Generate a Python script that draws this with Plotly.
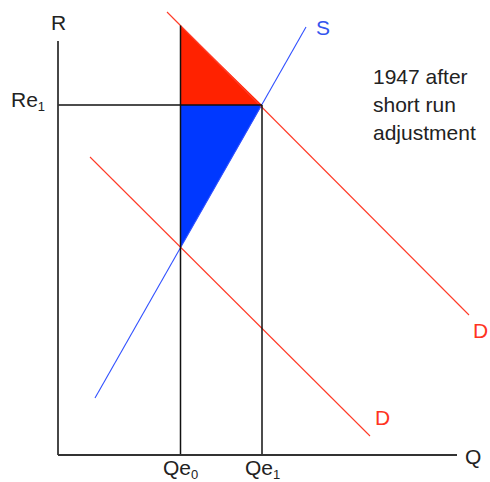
import numpy as np
import plotly.graph_objects as go

# Quantity (Q) and price (R) in diagram units; origin at the axes corner
axis_q_end = 399
axis_r_end = 414

supply_q = [37, 248]
supply_r = [57, 428]

demand_new_q = [109, 411]
demand_new_r = [443, 140]

demand_old_q = [32, 312]
demand_old_r = [298, 19]

qe0 = 122.5
qe1 = 204
re1 = 350

# Where the vertical at Qe0 meets the new demand and the supply curves
r_top = float(np.interp(qe0, demand_new_q, demand_new_r))
r_bottom = float(np.interp(qe0, supply_q, supply_r))

RED_LINE = "#ff3b28"
BLUE_LINE = "#3050ff"
FONT = "Liberation Sans, Arial, sans-serif"

fig = go.Figure()

# Shaded areas
fig.add_trace(go.Scatter(
    x=[qe0, qe0, qe1, qe0], y=[r_top, re1, re1, r_top],
    fill="toself", fillcolor="#ff2200", mode="lines",
    line=dict(width=0), hoverinfo="skip"))
fig.add_trace(go.Scatter(
    x=[qe0, qe1, qe0, qe0], y=[re1, re1, r_bottom, re1],
    fill="toself", fillcolor="#0038ff", mode="lines",
    line=dict(width=0), hoverinfo="skip"))

# Supply and demand curves
fig.add_trace(go.Scatter(x=supply_q, y=supply_r, mode="lines",
                         line=dict(color=BLUE_LINE, width=1.1)))
fig.add_trace(go.Scatter(x=demand_new_q, y=demand_new_r, mode="lines",
                         line=dict(color=RED_LINE, width=1.1)))
fig.add_trace(go.Scatter(x=demand_old_q, y=demand_old_r, mode="lines",
                         line=dict(color=RED_LINE, width=1.1)))

# Equilibrium guide lines
guide = dict(color="#111111", width=1.5)
fig.add_trace(go.Scatter(x=[qe0, qe0], y=[0, r_top], mode="lines", line=guide))
fig.add_trace(go.Scatter(x=[qe1, qe1], y=[0, re1], mode="lines", line=guide))
fig.add_trace(go.Scatter(x=[0, qe1], y=[re1, re1], mode="lines", line=guide))

# Axes
ax = dict(color="#333333", width=1.8)
fig.add_trace(go.Scatter(x=[0, 0], y=[0, axis_r_end], mode="lines", line=ax))
fig.add_trace(go.Scatter(x=[0, axis_q_end], y=[0, 0], mode="lines", line=ax))


def label(x, y, text, color="#222222", size=21, xanchor="center"):
    fig.add_annotation(x=x, y=y, text=text, showarrow=False,
                       xanchor=xanchor, yanchor="middle",
                       font=dict(family=FONT, size=size, color=color))


SUB = "<sub><span style='font-size:13px'>{}</span></sub>"

label(0, 433, "R")
label(415, -1, "Q")
label(-11, 354, "Re" + SUB.format("1"), xanchor="right")
label(qe0, -14, "Qe" + SUB.format("0"))
label(qe1, -14, "Qe" + SUB.format("1"))
label(265, 428, "S", color="#3355ee")
label(422, 125, "D", color="#ff3322")
label(324, 38, "D", color="#ff3322")

note_lines = ["1947 after", "short run", "adjustment"]
for i, line in enumerate(note_lines):
    label(313, 379 - 28 * i, line, xanchor="left")

fig.update_layout(
    width=490, height=482,
    margin=dict(l=0, r=0, t=0, b=0),
    paper_bgcolor="white", plot_bgcolor="white",
    showlegend=False,
    xaxis=dict(range=[-58, 432], visible=False, fixedrange=True),
    yaxis=dict(range=[-27, 455], visible=False, fixedrange=True),
)

fig.write_html("out.html")
